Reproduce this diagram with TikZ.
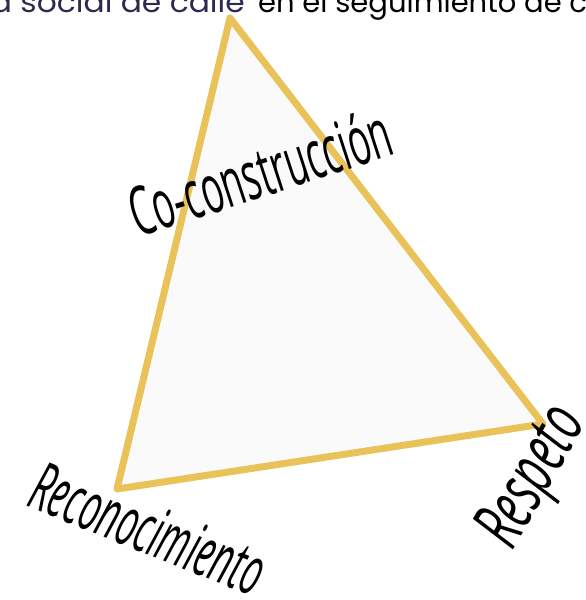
\documentclass[tikz,border=0pt]{standalone}
\usepackage{graphicx}
\usepackage{fontspec}
\setmainfont{Open Sans}
\newfontfamily\topfont{Poppins}
\newfontfamily\handfont{Open Sans}
\definecolor{gold}{RGB}{233,195,90}
\definecolor{paleg}{RGB}{251,250,251}
\definecolor{navy}{RGB}{45,42,80}
\newcommand{\hw}[3]{\resizebox{#1pt}{#2pt}{\handfont #3}}
\begin{document}
\begin{tikzpicture}[x=1pt,y=-1pt,
  tri/.style={draw=gold,fill=paleg,line width=7pt,line join=round},
  hand/.style={inner sep=0pt,anchor=base west},
  toptext/.style={inner sep=0pt,font=\topfont\fontsize{29}{32}\selectfont}]
\useasboundingbox (0,0) rectangle (586,600);
\coordinate (A) at (230,18);
\coordinate (B) at (117,489);
\coordinate (C) at (543,424);
\draw[tri] (A) -- (B) -- (C) -- cycle;
\node[toptext,text=navy,anchor=base east,xscale=1.08] (t1) at (245,12) {a social de calle};
\node[toptext,text=black,anchor=base west] (t2) at (258,12) {en el seguimiento de c};
\node[hand,rotate=18] (co) at (138,238) {\hw{272}{52}{Co-construcción}};
\node[hand,rotate=-22] (re) at (25,505) {\hw{246}{50}{\itshape Reconocimiento}};
\node[hand,rotate=60] (rs) at (512,552) {\hw{150}{50}{\itshape Respeto}};
\end{tikzpicture}
\end{document}
